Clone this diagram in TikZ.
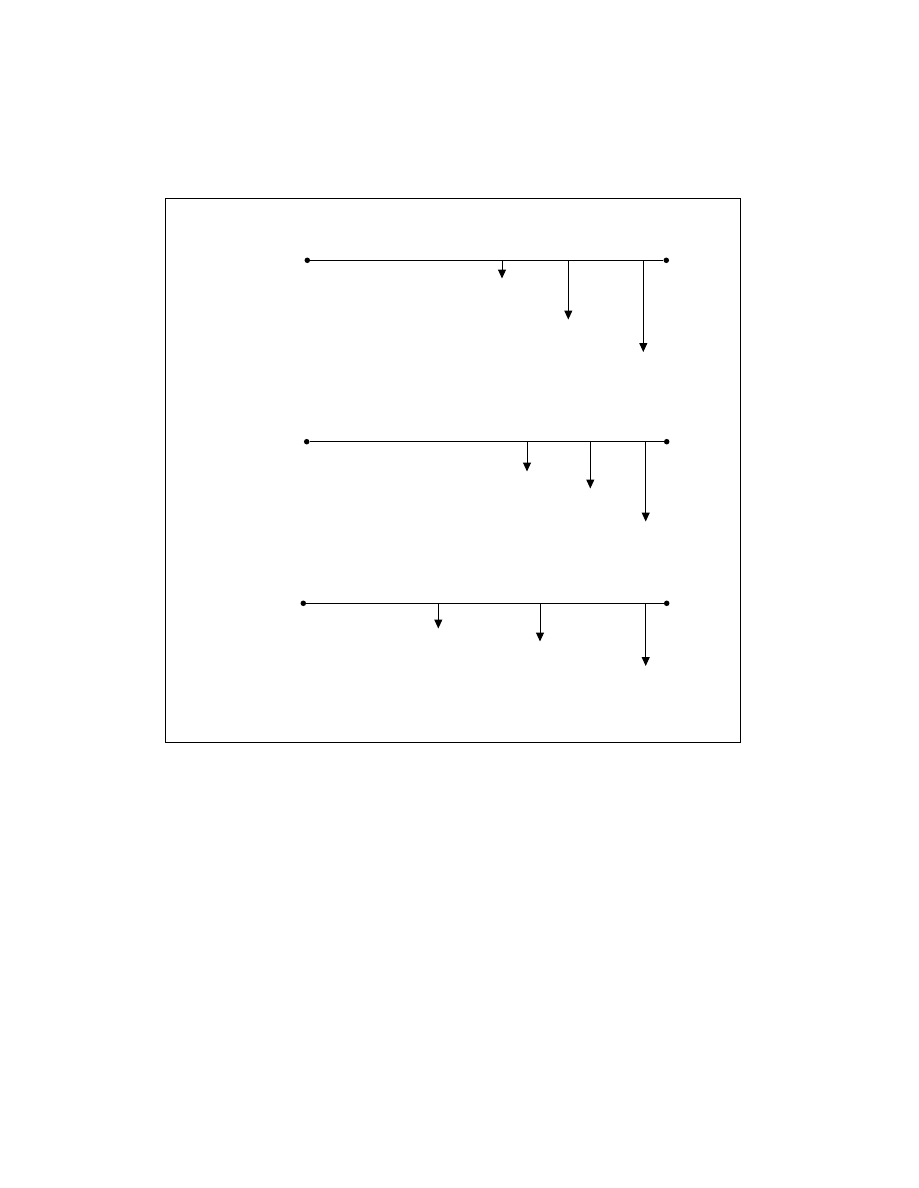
\documentclass[tikz,border=0pt]{standalone}
\usetikzlibrary{arrows.meta}
\begin{document}
\begin{tikzpicture}[x=1pt,y=-1pt,
  busline/.style={line width=1pt},
  frameline/.style={line width=1.3pt},
  drop/.style={line width=1pt,-{Triangle[width=8pt,length=9pt]}},
  enddot/.style={circle,fill=black,inner sep=0pt,minimum size=5.5pt}]
\useasboundingbox (0,0) rectangle (918,1188);
\draw[frameline] (165.7,198.3) rectangle (740.3,742.3);
% row 1
\node[enddot] (a1) at (307.3,260.3) {};
\node[enddot] (b1) at (666.3,260.3) {};
\draw[busline] (a1) -- (b1);
\coordinate (p11) at (502,260.3);   \coordinate (q11) at (502,278.5);
\coordinate (p12) at (568.3,260.3); \coordinate (q12) at (568.3,319.5);
\coordinate (p13) at (643.3,260.3); \coordinate (q13) at (643.3,352);
\draw[drop] (p11) -- (q11);
\draw[drop] (p12) -- (q12);
\draw[drop] (p13) -- (q13);
% row 2
\node[enddot] (a2) at (306.7,441.7) {};
\node[enddot] (b2) at (666.7,441.7) {};
\draw[busline] (a2) -- (b2);
\coordinate (p21) at (527,441.7);   \coordinate (q21) at (527,471.5);
\coordinate (p22) at (590.3,441.7); \coordinate (q22) at (590.3,488.5);
\coordinate (p23) at (645.7,441.7); \coordinate (q23) at (645.7,521.5);
\draw[drop] (p21) -- (q21);
\draw[drop] (p22) -- (q22);
\draw[drop] (p23) -- (q23);
% row 3
\node[enddot] (a3) at (303.3,603.3) {};
\node[enddot] (b3) at (666.7,603.3) {};
\draw[busline] (a3) -- (b3);
\coordinate (p31) at (438.3,603.3); \coordinate (q31) at (438.3,628.5);
\coordinate (p32) at (540,603.3);   \coordinate (q32) at (540,641.5);
\coordinate (p33) at (645.7,603.3); \coordinate (q33) at (645.7,666);
\draw[drop] (p31) -- (q31);
\draw[drop] (p32) -- (q32);
\draw[drop] (p33) -- (q33);
\end{tikzpicture}
\end{document}
